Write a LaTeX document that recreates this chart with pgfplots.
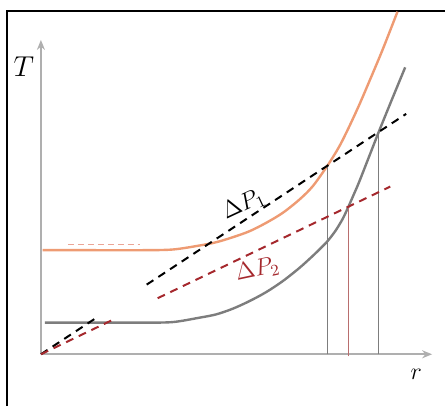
\documentclass[border=0pt]{standalone}
\usepackage{pgfplots}
\pgfplotsset{compat=1.18}
\usetikzlibrary{arrows.meta}
\definecolor{orangec}{RGB}{238,155,115}
\definecolor{grayc}{RGB}{125,125,125}
\definecolor{axisc}{RGB}{175,175,175}
\definecolor{redd}{RGB}{165,40,45}
\definecolor{redv}{RGB}{185,110,110}
\definecolor{faint}{RGB}{235,165,150}
\begin{document}
\begin{tikzpicture}
\begin{axis}[
  scale only axis, width=196pt, height=157.5pt,
  xmin=0, xmax=392, ymin=0, ymax=315,
  axis lines=left,
  axis line style={axisc, line width=0.9pt, -{Stealth[length=5pt,width=4pt]}},
  xtick=\empty, ytick=\empty,
  clip=false,
]
% invisible bounding box and frame
\path (axis cs:-41,-52) rectangle (axis cs:405,355);
\draw[black, line width=0.9pt] (axis cs:-34,-52) -- (axis cs:-34,344) -- (axis cs:405,344);
% faint dashed segment
\addplot[faint, line width=0.6pt, dash pattern=on 3pt off 2pt] coordinates {(27,110) (99,110)};
% orange curve
\addplot[orangec, line width=1.2pt, smooth] coordinates {
(1.7,104.3) (50,104.3) (102.3,104.3) (132.3,105) (159,109) (175.7,112.3) (192.3,117.3)
(209,123.3) (225.7,131.7) (242.3,141.7) (259,155) (272.3,168.3) (287.3,189.3)
(299,208.3) (309,228.3) (319,250) (329,273.3) (342.3,305) (357.3,343.3)};
% gray curve
\addplot[grayc, line width=1.2pt, smooth] coordinates {
(4,31.7) (50,31.7) (102.3,31.7) (132.3,32.3) (159,36.7) (175.7,40) (192.3,45.7)
(209,53.3) (225.7,62.3) (242.3,73.3) (259,86.5) (272.3,98.5) (280,106) (287.3,113.5)
(295,123.5) (302,135) (307.3,146) (313,159) (319,173) (329,198.5) (339,224)
(352,256) (365,287.5)};
% vertical lines
\addplot[grayc, line width=0.7pt] coordinates {(287.3,0) (287.3,189.3)};
\addplot[redv, line width=0.7pt] coordinates {(308,-2) (308,148)};
\addplot[grayc, line width=0.7pt] coordinates {(338,0) (338,224)};
% black dashed line
\addplot[black, line width=1pt, dash pattern=on 4pt off 3pt] coordinates {(0,0) (56,36.9)};
\addplot[black, line width=1pt, dash pattern=on 4pt off 3pt] coordinates {(106,69.8) (366,240.9)};
% red dashed line
\addplot[redd, line width=1pt, dash pattern=on 4pt off 3pt] coordinates {(0,0) (74,35.5)};
\addplot[redd, line width=1pt, dash pattern=on 4pt off 3pt] coordinates {(117,56.2) (350,168)};
% labels
\node[font=\Large] at (axis cs:-17,288) {$T$};
\node[font=\large] at (axis cs:376,-20) {$r$};
\node[rotate=25, font=\large] at (axis cs:203,150) {$\Delta P_1$};
\node[rotate=12, text=redd, font=\large] at (axis cs:217,85) {$\Delta P_2$};
\end{axis}
\end{tikzpicture}
\end{document}
